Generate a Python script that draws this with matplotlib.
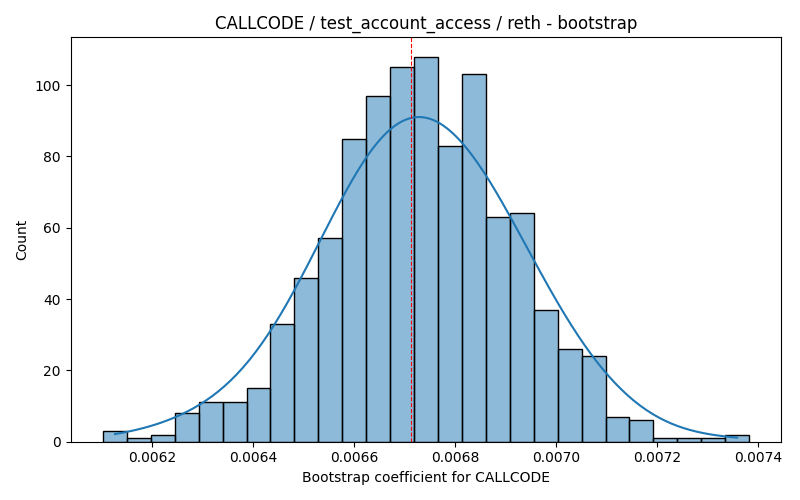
import numpy as np
import matplotlib
matplotlib.use("Agg")
import matplotlib.pyplot as plt
import seaborn as sns

# bin range and counts
x_min = 0.006103
x_max = 0.0073825
counts = [3, 1, 2, 8, 11, 11, 15, 33, 46, 57, 85, 97, 105, 108, 83,
          103, 63, 64, 37, 26, 24, 7, 6, 1, 1, 1, 2]
mean_line = 0.006712

edges = np.linspace(x_min, x_max, len(counts) + 1)
mids = (edges[:-1] + edges[1:]) / 2

fig, ax = plt.subplots(figsize=(8, 5), dpi=100)
sns.histplot(x=mids, weights=np.array(counts, dtype=float), bins=len(counts),
             binrange=(x_min, x_max), kde=True, ax=ax,
             kde_kws={"bw_adjust": 0.9})
ax.axvline(mean_line, color="red", linestyle="--", linewidth=0.8)
ax.set_title("CALLCODE / test_account_access / reth - bootstrap")
ax.set_xlabel("Bootstrap coefficient for CALLCODE")
ax.set_ylabel("Count")
fig.tight_layout()
fig.savefig("out.png")
